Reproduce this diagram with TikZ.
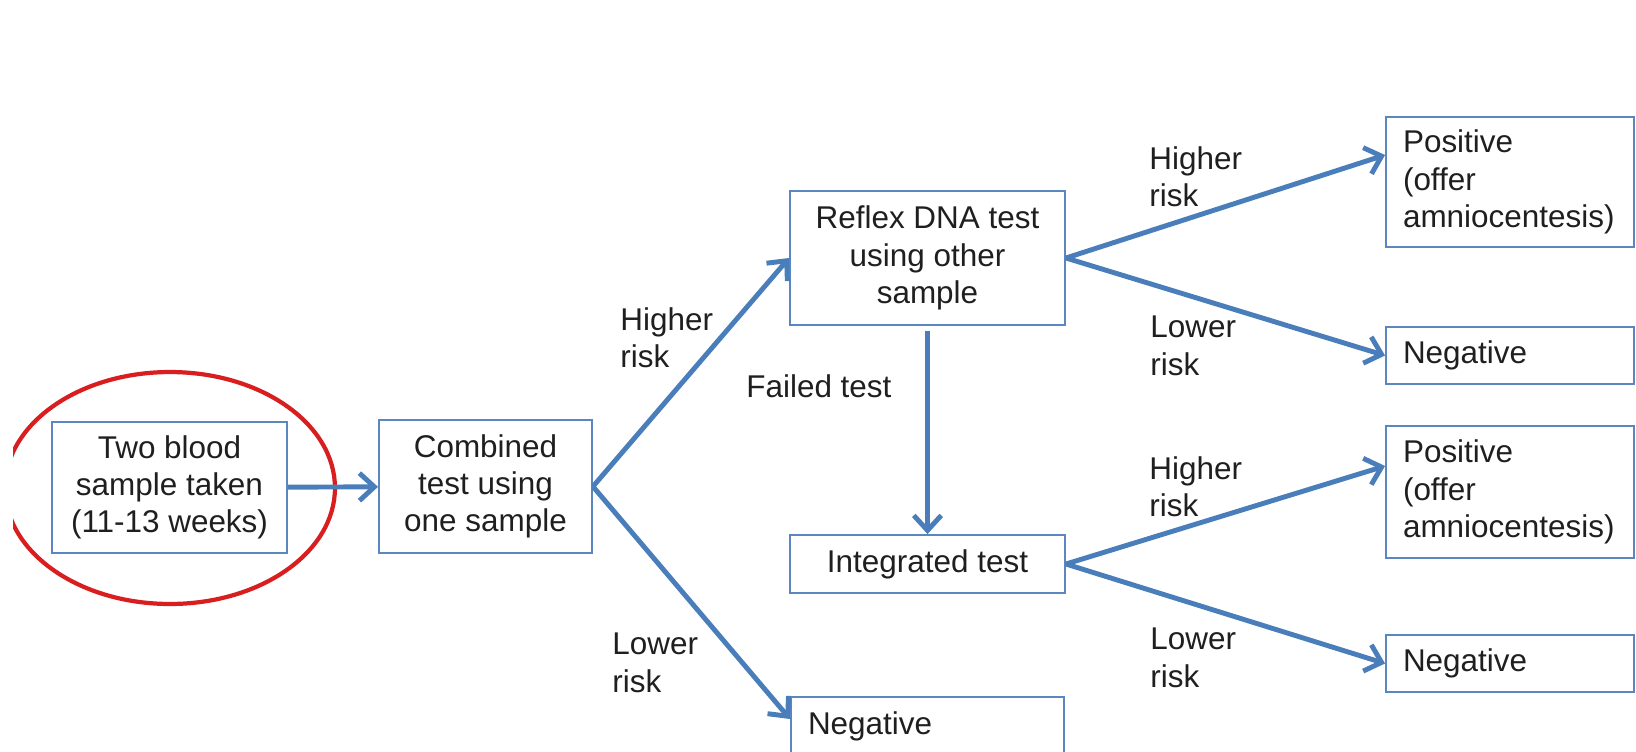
\documentclass[tikz,border=0pt]{standalone}
\usepackage{fontspec}
\setmainfont{Liberation Sans}
\usetikzlibrary{arrows.meta}
\definecolor{boxblue}{HTML}{5B86C0}
\definecolor{arrowblue}{HTML}{4A7EBB}
\definecolor{ringred}{HTML}{D81E1E}
\tikzset{
    stepbox/.style = {draw = boxblue, line width = 1.1pt, align = center, inner sep = 0pt},
    leftbox/.style = {draw = boxblue, line width = 1.1pt, align = left, inner xsep = 0.34cm, inner ysep = 0pt},
    flow/.style = {draw = arrowblue, line width = 2.8pt, -{Straight Barb[length = 0.3cm, width = 0.55cm]}},
    risklabel/.style = {align = left, inner sep = 0pt, anchor = north west}
}
\begin{document}
\begin{tikzpicture}[x = 0.02cm, y = -0.02cm, font = \fontsize{17.9pt}{21.2pt}\selectfont, text = black!88]
            \clip (0,0) rectangle (1636,751);
            %Start
            \node [stepbox, minimum width = 4.7cm, minimum height = 2.62cm]
            (blood)at(169.5,487.5){Two blood\\sample taken\\(11-13 weeks)};
            \begin{scope}
                \clip (13,300) rectangle (400,700);
                \draw [ringred, line width = 2.4pt] (170,488) ellipse [x radius = 3.3cm, y radius = 2.32cm];
            \end{scope}
            %Combined
            \node [stepbox, minimum width = 4.26cm, minimum height = 2.66cm]
            (comb)at(485.5,486.5){Combined\\test using\\one sample};
            %Reflex / Integrated
            \node [stepbox, minimum width = 5.5cm, minimum height = 2.68cm]
            (reflex)at(927.5,258){Reflex DNA test\\using other\\sample};
            \node [stepbox, minimum width = 5.5cm, minimum height = 1.16cm]
            (integ)at(927.5,564){Integrated test};
            \node [leftbox, text width = 4.78cm, minimum height = 1.16cm]
            (negc)at(927.5,726){Negative};
            %Results
            \node [leftbox, text width = 4.28cm, minimum height = 2.6cm]
            (postop)at(1510,182){Positive\\(offer\\amniocentesis)};
            \node [leftbox, text width = 4.28cm, minimum height = 1.14cm]
            (negtop)at(1510,355.5){Negative};
            \node [leftbox, text width = 4.28cm, minimum height = 2.64cm]
            (posbot)at(1510,492){Positive\\(offer\\amniocentesis)};
            \node [leftbox, text width = 4.28cm, minimum height = 1.14cm]
            (negbot)at(1510,663.5){Negative};
            %Labels
            \node [risklabel] (hi1)at(620,307){Higher\\risk};
            \node [risklabel] (lo1)at(612,633){Lower\\risk};
            \node [anchor = base west, inner sep = 0pt] (fail)at(746,397){Failed test};
            \node [risklabel] (hi2)at(1149,146){Higher\\risk};
            \node [risklabel] (lo2)at(1150,316){Lower\\risk};
            \node [risklabel] (hi3)at(1149,456){Higher\\risk};
            \node [risklabel] (lo3)at(1150,628){Lower\\risk};

            \draw [flow](blood)--(comb);
            \draw [flow](comb.east)--(reflex.west);
            \draw [flow](comb.east)--([yshift = 0.14cm]negc.west);
            \draw [flow, shorten <= 0.1cm](reflex.south)--(integ.north);
            \draw [flow](reflex.east)--([yshift = 0.54cm]postop.west);
            \draw [flow](reflex.east)--(negtop.west);
            \draw [flow](integ.east)--([yshift = 0.52cm]posbot.west);
            \draw [flow](integ.east)--(negbot.west);

        \end{tikzpicture}
\end{document}
